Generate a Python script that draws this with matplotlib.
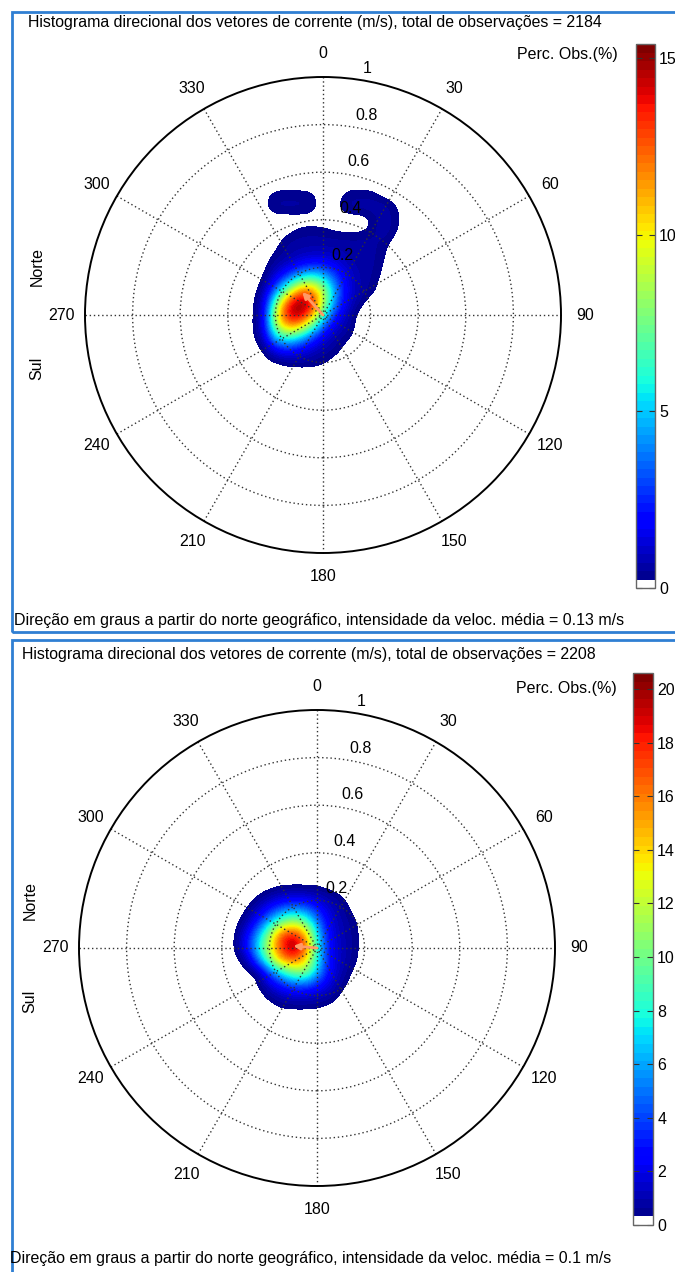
#!/usr/bin/env python
import numpy as np
import matplotlib
matplotlib.use("Agg")
import matplotlib.pyplot as plt
from matplotlib.colors import ListedColormap, Normalize
from matplotlib.patches import Circle, Rectangle
from matplotlib.cm import ScalarMappable

plt.rcParams["font.family"] = ["Liberation Sans", "DejaVu Sans"]

# ---- values ----
n_obs = [2184, 2208]
mean_speed = [0.13, 0.1]      # m/s
mean_dir = [318, 275]         # degrees from geographic north
cbar_max = [15.4, 20.6]       # % of observations
cbar_ticks_1 = [0, 5, 10, 15]
cbar_ticks_2 = [0, 2, 4, 6, 8, 10, 12, 14, 16, 18, 20]
ring_speeds = [0.2, 0.4, 0.6, 0.8, 1.0]
dir_ticks = list(range(0, 360, 30))

# panel 1: percentage of observations on an east (u) / north (v) velocity grid
u_1 = [-0.35, -0.30, -0.25, -0.20, -0.15, -0.10, -0.05, 0.0, 0.05, 0.10, 0.15, 0.20, 0.25, 0.30, 0.35]
v_1 = [0.55, 0.50, 0.45, 0.40, 0.35, 0.30, 0.25, 0.20, 0.15, 0.10, 0.05, 0.0,
       -0.05, -0.10, -0.15, -0.20, -0.25, -0.30]
perc_1 = [
    [0, 0, 0, 0, 0, 0, 0, 0, 0, 0, 0, 0, 0, 0, 0],
    [0, 0, 0.1, 0.4, 0.4, 0.4, 0.35, 0, 0, 0.4, 0.45, 0.4, 0.1, 0, 0],
    [0, 0, 0.1, 0.6, 0.6, 0.6, 0.5, 0, 0.1, 0.6, 0.6, 0.7, 0.7, 0.3, 0],
    [0, 0, 0, 0, 0, 0, 0, 0, 0, 0, 0, 0.2, 0.7, 0.4, 0],
    [0, 0, 0, 0, 0.1, 0.35, 0.4, 0.35, 0.2, 0.15, 0.15, 0.3, 0.8, 0.3, 0],
    [0, 0, 0, 0.1, 0.5, 0.6, 0.6, 0.6, 0.6, 0.6, 0.6, 0.6, 0.4, 0.05, 0],
    [0, 0, 0, 0.3, 0.6, 0.8, 1.0, 1.0, 0.9, 0.6, 0.6, 0.6, 0.3, 0, 0],
    [0, 0, 0.05, 0.7, 1.2, 2.1, 2.7, 2.6, 1.8, 1.0, 0.6, 0.6, 0.2, 0, 0],
    [0, 0, 0.15, 1.5, 3.5, 5.8, 7.0, 5.6, 3.2, 1.4, 0.7, 0.5, 0.1, 0, 0],
    [0, 0, 0.5, 3.7, 7.9, 12.0, 12.2, 8.7, 4.1, 1.5, 0.7, 0.4, 0, 0, 0],
    [0, 0, 1.0, 7.0, 13.2, 15.4, 14.2, 8.9, 3.7, 1.3, 0.4, 0, 0, 0, 0],
    [0, 0, 1.2, 9.3, 14.3, 15.2, 12.2, 6.3, 2.4, 0.8, 0, 0, 0, 0, 0],
    [0, 0, 1.3, 8.2, 11.5, 10.8, 7.0, 3.2, 1.2, 0.6, 0, 0, 0, 0, 0],
    [0, 0, 0.8, 5.0, 6.0, 4.8, 2.9, 1.3, 0.6, 0.3, 0, 0, 0, 0, 0],
    [0, 0, 0.1, 1.6, 2.2, 1.7, 1.0, 0.6, 0.4, 0, 0, 0, 0, 0, 0],
    [0, 0, 0, 0.1, 0.3, 0.4, 0.4, 0.3, 0.05, 0, 0, 0, 0, 0, 0],
    [0, 0, 0, 0, 0, 0, 0, 0, 0, 0, 0, 0, 0, 0, 0],
    [0, 0, 0, 0, 0, 0, 0, 0, 0, 0, 0, 0, 0, 0, 0],
]

# panel 2
u_2 = [-0.35, -0.30, -0.25, -0.20, -0.15, -0.10, -0.05, 0.0, 0.05, 0.10, 0.15, 0.20, 0.25]
v_2 = [0.30, 0.25, 0.20, 0.15, 0.10, 0.05, 0.0, -0.05, -0.10, -0.15, -0.20, -0.25, -0.30]
perc_2 = [
    [0, 0, 0, 0, 0, 0, 0, 0, 0, 0, 0, 0, 0],
    [0, 0, 0, 0.1, 0.3, 0.3, 0.3, 0.3, 0.1, 0, 0, 0, 0],
    [0, 0, 0.4, 1.2, 2.0, 2.4, 2.3, 1.7, 1.0, 0.5, 0, 0, 0],
    [0, 0.2, 1.5, 3.5, 5.5, 6.5, 5.8, 3.5, 1.6, 0.8, 0.2, 0, 0],
    [0, 0.8, 3.5, 7.0, 11.0, 12.5, 10.5, 5.5, 2.0, 1.0, 0.5, 0, 0],
    [0, 2.0, 6.0, 11.5, 17.5, 19.0, 15.5, 7.0, 2.3, 1.1, 0.6, 0, 0],
    [0, 2.5, 7.0, 12.5, 18.0, 20.6, 17.0, 8.0, 2.5, 1.2, 0.6, 0, 0],
    [0, 0.6, 5.0, 10.5, 15.5, 17.0, 14.5, 7.5, 2.6, 1.2, 0.5, 0, 0],
    [0, 0.05, 0.4, 4.5, 8.0, 10.5, 11.0, 6.5, 2.5, 1.0, 0.2, 0, 0],
    [0, 0, 0.1, 1.8, 3.5, 5.0, 5.0, 3.5, 1.8, 0.6, 0, 0, 0],
    [0, 0, 0, 0.5, 1.2, 1.6, 1.6, 1.3, 0.9, 0.1, 0, 0, 0],
    [0, 0, 0, 0.05, 0.3, 0.3, 0.3, 0.3, 0.1, 0, 0, 0, 0],
    [0, 0, 0, 0, 0, 0, 0, 0, 0, 0, 0, 0, 0],
]

# ---- layout (pixels) ----
W, H = 675, 1272
R = 238  # pixels for 1 m/s
FS = 11.5

jet = plt.get_cmap("jet", 64)(np.arange(64))
jet[0] = [1, 1, 1, 1]
cmap = ListedColormap(jet)


def box(x0, y0, w, h):
    return [x0 / W, 1 - (y0 + h) / H, w / W, h / H]


def draw_panel(fig, u, v, perc, vmax, ticks, speed, direction, nobs, lay):
    cx, cy = lay["center"]
    norm = Normalize(0, vmax)

    ax = fig.add_axes(box(cx - 1.2 * R, cy - 1.2 * R, 2.4 * R, 2.4 * R))
    step = u[1] - u[0]
    ext = [u[0] - step / 2, u[-1] + step / 2, v[-1] - step / 2, v[0] + step / 2]
    ax.imshow(np.array(perc), extent=ext, origin="upper", cmap=cmap, norm=norm,
              interpolation="bicubic", interpolation_stage="data", zorder=1)
    ax.set_xlim(-1.2, 1.2)
    ax.set_ylim(-1.2, 1.2)
    ax.axis("off")

    dots = (0, (1, 2))
    for r in ring_speeds[:-1]:
        ax.add_patch(Circle((0, 0), r, fill=False, ls=dots, lw=1.0, ec="0.2", zorder=3))
    ax.add_patch(Circle((0, 0), 1.0, fill=False, lw=1.4, ec="black", zorder=4))
    for d in dir_ticks[:6]:
        t = np.deg2rad(d)
        ax.plot([-np.sin(t), np.sin(t)], [-np.cos(t), np.cos(t)],
                ls=dots, lw=1.0, color="0.2", zorder=3)

    for d in dir_ticks:
        t = np.deg2rad(d)
        ax.text(1.1 * np.sin(t), 1.1 * np.cos(t), str(d), ha="center", va="center",
                fontsize=FS)
    t = np.deg2rad(9.5)
    for r in ring_speeds:
        ax.text((r + 0.02) * np.sin(t), (r + 0.02) * np.cos(t), f"{r:g}",
                ha="left", va="bottom", fontsize=FS, zorder=6)

    t = np.deg2rad(direction)
    ax.annotate("", xy=(speed * np.sin(t), speed * np.cos(t)), xytext=(0, 0),
                arrowprops=dict(arrowstyle="-|>", color="#ff9a66", lw=2,
                                mutation_scale=9, shrinkA=0, shrinkB=0),
                zorder=5)

    fig.text(lay["norte_x"] / W, 1 - (cy - 48) / H, "Norte", rotation=90,
             ha="center", va="center", fontsize=FS)
    fig.text(lay["norte_x"] / W, 1 - (cy + 53) / H, "Sul", rotation=90,
             ha="center", va="center", fontsize=FS)

    cbx, cbt, cbw, cbb = lay["cbar"]
    cax = fig.add_axes(box(cbx, cbt, cbw, cbb - cbt))
    cb = fig.colorbar(ScalarMappable(norm=norm, cmap=cmap), cax=cax, ticks=ticks)
    cb.outline.set_edgecolor("0.4")
    cb.outline.set_linewidth(1)
    cax.tick_params(direction="in", length=4, width=0.8, left=True, right=True,
                    labelsize=FS, pad=3, color="0.2")
    px, py = lay["perc"]
    fig.text(px / W, 1 - py / H, "Perc. Obs.(%)", ha="right", va="center", fontsize=FS)

    tx, ty = lay["title"]
    fig.text(tx / W, 1 - ty / H,
             f"Histograma direcional dos vetores de corrente (m/s), total de observações = {nobs}",
             ha="left", va="center", fontsize=11.4)
    fx, fy = lay["foot"]
    fig.text(fx / W, 1 - fy / H,
             f"Direção em graus a partir do norte geográfico, intensidade da veloc. média = {speed:g} m/s",
             ha="left", va="center", fontsize=11.5)

    ft, fb = lay["frame"]
    fig.add_artist(Rectangle((12 / W, 1 - fb / H), (W + 20) / W, (fb - ft) / H,
                             transform=fig.transFigure, fill=False,
                             ec="#2f7fd3", lw=2))


fig = plt.figure(figsize=(W / 100, H / 100), dpi=100)

layout_1 = dict(center=(323, 315), cbar=(636, 44, 19, 588), perc=(618, 55),
                title=(28, 22), foot=(14, 620), norte_x=37, frame=(12, 632))
layout_2 = dict(center=(317, 948), cbar=(633, 673, 20, 1225), perc=(617, 688),
                title=(22, 655), foot=(10, 1259), norte_x=30, frame=(640, 1300))

draw_panel(fig, u_1, v_1, perc_1, cbar_max[0], cbar_ticks_1,
           mean_speed[0], mean_dir[0], n_obs[0], layout_1)
draw_panel(fig, u_2, v_2, perc_2, cbar_max[1], cbar_ticks_2,
           mean_speed[1], mean_dir[1], n_obs[1], layout_2)

fig.savefig("out.png", dpi=100)
print("Wrote out.png")
